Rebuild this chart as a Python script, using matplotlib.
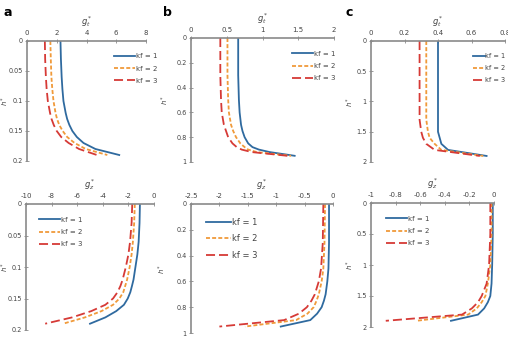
import matplotlib
matplotlib.use("Agg")
import matplotlib.pyplot as plt

# ---------------- data ----------------
labels = ["kf = 1", "kf = 2", "kf = 3"]

# top row (g*_t vs h*)
a_top_h = [0, 0.03, 0.06, 0.08, 0.1, 0.12, 0.13, 0.14, 0.15, 0.16, 0.17, 0.18, 0.19]
a_top_k1 = [2.25, 2.28, 2.33, 2.38, 2.45, 2.6, 2.7, 2.85, 3.05, 3.35, 3.8, 4.6, 6.2]
a_top_k2 = [1.57, 1.6, 1.64, 1.7, 1.78, 1.92, 2.02, 2.17, 2.4, 2.7, 3.2, 3.95, 5.4]
a_top_k3 = [1.2, 1.22, 1.27, 1.32, 1.4, 1.55, 1.65, 1.8, 2.0, 2.3, 2.8, 3.5, 4.7]

b_top_h = [0, 0.3, 0.5, 0.6, 0.7, 0.75, 0.8, 0.85, 0.88, 0.9, 0.92, 0.95]
b_top_k1 = [0.66, 0.66, 0.67, 0.68, 0.7, 0.72, 0.75, 0.8, 0.86, 0.95, 1.1, 1.45]
b_top_k2 = [0.51, 0.51, 0.52, 0.53, 0.56, 0.59, 0.63, 0.69, 0.75, 0.8, 0.92, 1.4]
b_top_k3 = [0.41, 0.41, 0.42, 0.43, 0.46, 0.49, 0.52, 0.58, 0.64, 0.71, 0.85, 1.35]

c_top_h = [0, 0.5, 1.0, 1.3, 1.5, 1.6, 1.7, 1.8, 1.9]
c_top_k1 = [0.4, 0.4, 0.4, 0.4, 0.4, 0.41, 0.42, 0.46, 0.69]
c_top_k2 = [0.33, 0.33, 0.33, 0.33, 0.34, 0.35, 0.38, 0.42, 0.67]
c_top_k3 = [0.29, 0.29, 0.29, 0.29, 0.3, 0.31, 0.33, 0.38, 0.65]

# bottom row (g*_z vs h*)
a_bot_h = [0, 0.03, 0.06, 0.08, 0.1, 0.12, 0.13, 0.14, 0.15, 0.16, 0.17, 0.18, 0.19]
a_bot_k1 = [-1.1, -1.13, -1.2, -1.3, -1.45, -1.6, -1.72, -1.85, -2.05, -2.35, -2.95, -3.8, -5.0]
a_bot_k2 = [-1.5, -1.55, -1.65, -1.75, -1.9, -2.1, -2.25, -2.4, -2.7, -3.2, -4.1, -5.4, -7.1]
a_bot_k3 = [-1.7, -1.75, -1.87, -2.0, -2.2, -2.45, -2.62, -2.85, -3.2, -3.8, -4.9, -6.4, -8.5]

b_bot_h = [0, 0.3, 0.5, 0.6, 0.7, 0.75, 0.8, 0.85, 0.9, 0.95]
b_bot_k1 = [-0.07, -0.07, -0.08, -0.1, -0.13, -0.16, -0.2, -0.28, -0.4, -0.92]
b_bot_k2 = [-0.14, -0.15, -0.17, -0.2, -0.25, -0.29, -0.34, -0.45, -0.65, -1.55]
b_bot_k3 = [-0.17, -0.18, -0.21, -0.25, -0.32, -0.38, -0.46, -0.6, -0.86, -2.0]

c_bot_h = [0, 0.5, 1.0, 1.3, 1.5, 1.6, 1.7, 1.8, 1.9]
c_bot_k1 = [-0.01, -0.01, -0.015, -0.02, -0.03, -0.05, -0.08, -0.13, -0.35]
c_bot_k2 = [-0.02, -0.02, -0.03, -0.05, -0.07, -0.1, -0.14, -0.21, -0.63]
c_bot_k3 = [-0.03, -0.03, -0.04, -0.06, -0.1, -0.13, -0.18, -0.26, -0.88]

# ---------------- style ----------------
colors = ["#2f6a9f", "#f09a3a", "#d63a36"]
styles = ["-", (0, (2.2, 1.2)), (0, (5, 2.2))]
lw = 1.3
tick_fs = 5
spine_col = "#8a8a8a"
text_col = "#444444"

fig = plt.figure(figsize=(5.08, 3.37), dpi=100)
W, H = 508, 337


def make_ax(x0, x1, y0, y1):
    return fig.add_axes([x0 / W, 1 - y1 / H, (x1 - x0) / W, (y1 - y0) / H])


panels = [
    # box, xlim, xticks, ylim, yticks, h, series, xlabel, legend pos, legend fs, handlelen, ylabel px offset
    ((27, 146, 41, 161), (0, 8), [0, 2, 4, 6, 8], (0.2, 0), [0, 0.05, 0.1, 0.15, 0.2],
     a_top_h, [a_top_k1, a_top_k2, a_top_k3], r"$g^*_t$", (0.71, 0.92), 5, 3.0, -16),
    ((191, 334, 38, 162), (0, 2), [0, 0.5, 1, 1.5, 2], (1, 0), [0, 0.2, 0.4, 0.6, 0.8, 1],
     b_top_h, [b_top_k1, b_top_k2, b_top_k3], r"$g^*_t$", (0.69, 0.92), 5, 3.0, -20),
    ((371, 505, 41, 162), (0, 0.8), [0, 0.2, 0.4, 0.6, 0.8], (2, 0), [0, 0.5, 1, 1.5, 2],
     c_top_h, [c_top_k1, c_top_k2, c_top_k3], r"$g^*_t$", (0.74, 0.92), 4.8, 1.8, -15),
    ((26, 154, 204, 330), (-10, 0), [-10, -8, -6, -4, -2, 0], (0.2, 0), [0, 0.05, 0.1, 0.15, 0.2],
     a_bot_h, [a_bot_k1, a_bot_k2, a_bot_k3], r"$g^*_z$", (0.08, 0.92), 5, 3.0, -15),
    ((191, 333, 204, 333), (-2.5, 0), [-2.5, -2, -1.5, -1, -0.5, 0], (1, 0), [0, 0.2, 0.4, 0.6, 0.8, 1],
     b_bot_h, [b_bot_k1, b_bot_k2, b_bot_k3], r"$g^*_z$", (0.08, 0.92), 6, 3.0, -23),
    ((371, 494, 203, 327), (-1, 0), [-1, -0.8, -0.6, -0.4, -0.2, 0], (2, 0), [0, 0.5, 1, 1.5, 2],
     c_bot_h, [c_bot_k1, c_bot_k2, c_bot_k3], r"$g^*_z$", (0.1, 0.92), 5, 3.0, -15),
]

for box, xlim, xticks, ylim, yticks, h, series, xlabel, lpos, lfs, hl, yoff in panels:
    ax = make_ax(*box)
    for s, c, ls, lab in zip(series, colors, styles, labels):
        ax.plot(s, h, color=c, linestyle=ls, lw=lw, label=lab)
    ax.set_xlim(*xlim)
    ax.set_ylim(*ylim)
    ax.set_xticks(xticks)
    ax.set_yticks(yticks)
    ax.set_xticklabels([f"{t:g}" for t in xticks])
    ax.set_yticklabels([f"{t:g}" for t in yticks])
    ax.xaxis.tick_top()
    ax.xaxis.set_label_position("top")
    ax.set_xlabel(xlabel, fontsize=6, color=text_col, labelpad=4)
    ax.set_ylabel(r"$h^*$", fontsize=5, color=text_col)
    ax.yaxis.set_label_coords(yoff / (box[1] - box[0]), 0.5)
    for side in ["right", "bottom"]:
        ax.spines[side].set_visible(False)
    for side in ["top", "left"]:
        ax.spines[side].set_color(spine_col)
        ax.spines[side].set_linewidth(1.2)
    ax.tick_params(axis="both", labelsize=tick_fs, colors=text_col, direction="inout",
                   length=3, width=0.6, pad=2)
    ax.tick_params(axis="y", labelsize=4.7, pad=1.5)
    ax.tick_params(axis="both", color=spine_col)
    ax.patch.set_alpha(0)
    leg = ax.legend(loc="upper left", bbox_to_anchor=lpos, frameon=False, fontsize=lfs,
                    handlelength=hl, handletextpad=0.1, labelspacing=0.9, borderaxespad=0)
    for t in leg.get_texts():
        t.set_color(text_col)

for lab, x, y in [("a", 3, 12), ("b", 163, 12), ("c", 346, 12)]:
    fig.text(x / W, 1 - y / H, lab, fontsize=9, fontweight="bold", color="black",
             ha="left", va="center")

fig.savefig("out.png", dpi=100)
